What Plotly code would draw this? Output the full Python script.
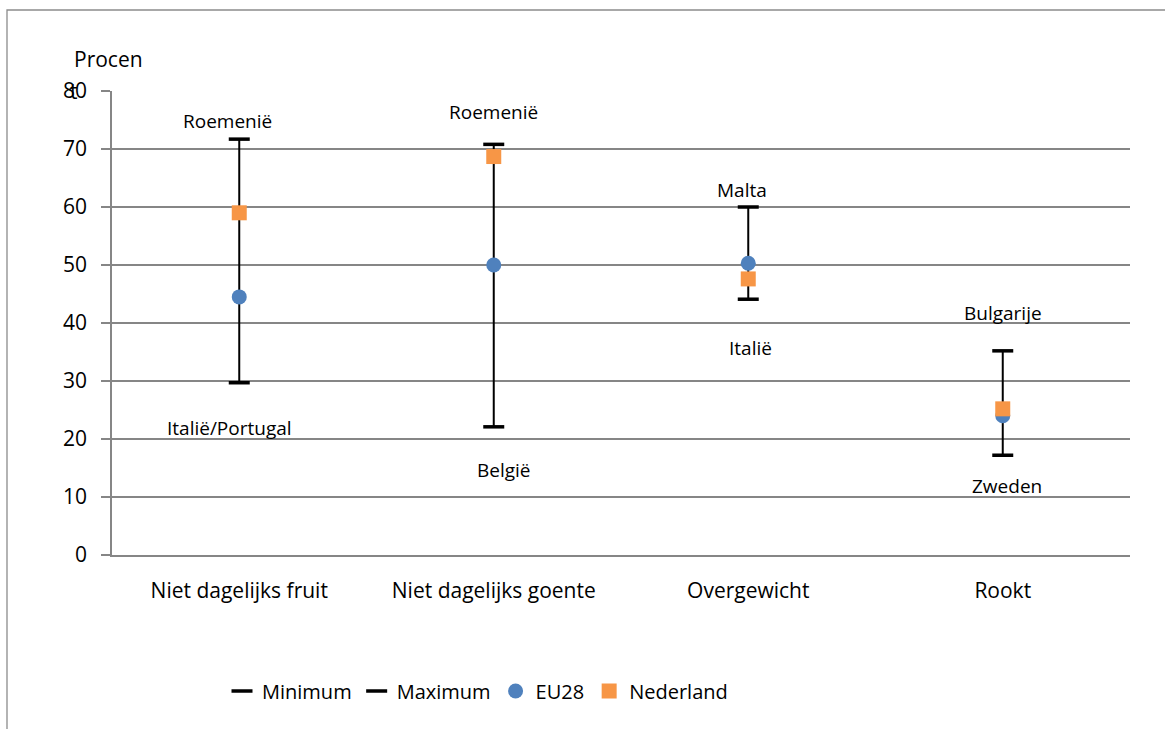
import plotly.graph_objects as go

categories = ["Niet dagelijks fruit", "Niet dagelijks goente", "Overgewicht", "Rookt"]
minimum = [29.7, 22.1, 44.1, 17.2]
maximum = [71.7, 70.8, 60.0, 35.2]
eu28 = [44.5, 50.0, 50.3, 24.0]
nederland = [59.0, 68.7, 47.6, 25.2]
max_labels = ["Roemenië", "Roemenië", "Malta", "Bulgarije"]
min_labels = ["Italië/Portugal", "België", "Italië", "Zweden"]
y_ticks = [0, 10, 20, 30, 40, 50, 60, 70, 80]

# label pixel offsets (style only)
max_yshift = [18, 32, 17, 38]
max_xshift = [-12, 0, -6, 0]
min_yshift = [-45, -43, -49, -31]
min_xshift = [-10, 10, 2, 4]

FONT = "Open Sans, Noto Sans, sans-serif"
GRID = "#868686"
W, H = 1165, 729
# plot area in page pixels: x 112..1130, y 91..555
L = 112
T = 91
R = W - 1130
B = H - 555
PW, PH = W - L - R, H - T - B


def px_x(px):
    return (px - L) / PW


def px_y(py):
    return (H - B - py) / PH


fig = go.Figure()

# vertical range lines built from min/max
vx, vy = [], []
for c, lo, hi in zip(categories, minimum, maximum):
    vx += [c, c, None]
    vy += [lo, hi, None]
fig.add_trace(go.Scatter(x=vx, y=vy, mode="lines", line=dict(color="black", width=2),
                         showlegend=False, hoverinfo="skip"))

fig.add_trace(go.Scatter(x=categories, y=minimum, mode="markers", name="Minimum",
                         marker=dict(symbol="line-ew", size=15, color="black",
                                     line=dict(color="black", width=3.5))))
fig.add_trace(go.Scatter(x=categories, y=maximum, mode="markers", name="Maximum",
                         marker=dict(symbol="line-ew", size=15, color="black",
                                     line=dict(color="black", width=3.5))))
fig.add_trace(go.Scatter(x=categories, y=eu28, mode="markers", name="EU28",
                         marker=dict(symbol="circle", size=15, color="#4F81BD",
                                     line=dict(width=0))))
fig.add_trace(go.Scatter(x=categories, y=nederland, mode="markers", name="Nederland",
                         marker=dict(symbol="square", size=15, color="#F79646",
                                     line=dict(width=0))))

annotations = []
for i, c in enumerate(categories):
    annotations.append(dict(x=c, y=maximum[i], xref="x", yref="y", text=max_labels[i],
                            showarrow=False, yshift=max_yshift[i], xshift=max_xshift[i],
                            yanchor="middle", font=dict(family=FONT, size=19, color="black")))
    annotations.append(dict(x=c, y=minimum[i], xref="x", yref="y", text=min_labels[i],
                            showarrow=False, yshift=min_yshift[i], xshift=min_xshift[i],
                            yanchor="middle", font=dict(family=FONT, size=19, color="black")))

annotations.append(dict(x=px_x(72), y=px_y(59), xref="paper", yref="paper", text="Procen",
                        showarrow=False, xanchor="left", yanchor="middle",
                        font=dict(family=FONT, size=21, color="black")))
annotations.append(dict(x=px_x(68), y=px_y(91), xref="paper", yref="paper", text="t",
                        showarrow=False, xanchor="left", yanchor="middle",
                        font=dict(family=FONT, size=21, color="black")))

fig.update_layout(
    width=W, height=H,
    margin=dict(l=L, r=R, t=T, b=B, pad=0),
    paper_bgcolor="white", plot_bgcolor="white",
    font=dict(family=FONT, color="black"),
    xaxis=dict(type="category", range=[-0.5, 3.5], showgrid=False, zeroline=False,
               showline=True, linecolor=GRID, linewidth=2.2, ticks="",
               tickfont=dict(family=FONT, size=21, color="black"), ticklabelstandoff=16),
    yaxis=dict(range=[0, 80], tickvals=y_ticks, showgrid=True, gridcolor=GRID, gridwidth=1.8,
               zeroline=False, showline=True, linecolor=GRID, linewidth=1.8,
               ticks="outside", ticklen=9, tickcolor=GRID, tickwidth=1.8,
               ticklabelstandoff=10,
               tickfont=dict(family=FONT, size=21, color="black")),
    showlegend=True,
    legend=dict(orientation="h", x=px_x(222), xanchor="left", y=px_y(691), yanchor="middle",
                font=dict(family=FONT, size=20, color="black"), bgcolor="rgba(0,0,0,0)"),
    annotations=annotations,
    shapes=[dict(type="rect", xref="paper", yref="paper",
                 x0=px_x(7), x1=px_x(1190), y0=px_y(760), y1=px_y(10),
                 line=dict(color="#8C8C8C", width=1.3), fillcolor="rgba(0,0,0,0)", layer="below")],
)

fig.write_html("out.html", config={"displayModeBar": False},
               post_script="document.body.style.margin='0';")
